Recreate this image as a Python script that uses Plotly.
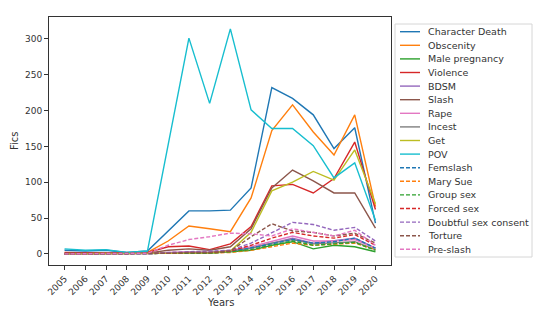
import plotly.graph_objects as go

years = list(range(2005, 2021))
year_labels = [str(y) for y in years]

character_death = [5, 4, 5, 2, 4, 32, 60, 60, 61, 92, 232, 217, 194, 147, 176, 43]
obscenity = [1, 1, 1, 1, 2, 18, 39, 35, 31, 78, 172, 208, 170, 138, 194, 66]
male_pregnancy = [0, 0, 0, 0, 0, 1, 1, 1, 3, 5, 12, 17, 7, 12, 10, 3]
violence = [2, 1, 1, 1, 2, 10, 11, 6, 14, 38, 95, 97, 85, 105, 156, 62]
bdsm = [0, 0, 0, 0, 0, 1, 2, 2, 4, 8, 15, 22, 15, 18, 22, 8]
slash = [1, 1, 1, 1, 1, 5, 7, 5, 10, 35, 92, 117, 102, 85, 85, 36]
rape = [0, 0, 0, 0, 0, 2, 3, 2, 5, 10, 18, 25, 18, 18, 20, 8]
incest = [0, 0, 0, 0, 0, 1, 2, 2, 4, 8, 15, 20, 14, 15, 17, 6]
get_ = [0, 0, 0, 0, 0, 1, 1, 1, 4, 30, 88, 100, 115, 103, 145, 70]
pov = [7, 5, 6, 2, 4, 150, 301, 210, 314, 201, 175, 175, 151, 106, 127, 47]
femslash = [0, 0, 0, 0, 0, 1, 1, 1, 3, 8, 14, 20, 15, 17, 22, 8]
mary_sue = [0, 0, 0, 0, 0, 1, 1, 1, 2, 5, 10, 15, 12, 13, 15, 6]
group_sex = [0, 0, 0, 0, 0, 1, 1, 1, 3, 6, 12, 18, 12, 14, 16, 5]
forced_sex = [0, 0, 0, 0, 0, 1, 2, 2, 4, 12, 22, 30, 25, 22, 27, 12]
doubtful_consent = [0, 0, 0, 0, 0, 2, 3, 3, 5, 15, 30, 44, 41, 33, 37, 18]
torture = [0, 0, 0, 0, 0, 1, 2, 2, 4, 24, 42, 32, 30, 25, 29, 15]
pre_slash = [0, 0, 0, 0, 1, 12, 20, 24, 29, 28, 25, 35, 30, 25, 33, 12]

series_names = ["Character Death", "Obscenity", "Male pregnancy", "Violence", "BDSM",
                "Slash", "Rape", "Incest", "Get", "POV", "Femslash", "Mary Sue",
                "Group sex", "Forced sex", "Doubtful sex consent", "Torture", "Pre-slash"]
series_values = [character_death, obscenity, male_pregnancy, violence, bdsm, slash, rape,
                 incest, get_, pov, femslash, mary_sue, group_sex, forced_sex,
                 doubtful_consent, torture, pre_slash]

tab10 = ["#1f77b4", "#ff7f0e", "#2ca02c", "#d62728", "#9467bd",
         "#8c564b", "#e377c2", "#7f7f7f", "#bcbd22", "#17becf"]

# page body has an 8px margin, so the figure is drawn 8px in from the window edge
OFF = 8
W, H = 549 - OFF, 324 - OFF
L, R, T, B = 49 - OFF, 158, 17 - OFF, 59
pw, ph = W - L - R, H - T - B

def px_x(p):
    return (p - OFF - L) / pw

def px_y(p):
    return (H - B - (p - OFF)) / ph

fig = go.Figure()
shapes = []
annotations = []

legend_top = 31.7
legend_step = 13.6

for i, (name, vals) in enumerate(zip(series_names, series_values)):
    color = tab10[i % 10]
    dash = "solid" if i < 10 else "4px,2px"
    fig.add_trace(go.Scatter(x=years, y=vals, mode="lines", name=name,
                             line=dict(color=color, width=1.4, dash=dash),
                             showlegend=False))
    yy = px_y(legend_top + legend_step * i)
    shapes.append(dict(type="line", xref="paper", yref="paper",
                       x0=px_x(400), x1=px_x(420), y0=yy, y1=yy,
                       line=dict(color=color, width=1.4, dash=dash)))
    annotations.append(dict(x=px_x(426), y=yy, xref="paper", yref="paper",
                            text=name, showarrow=False, xanchor="left", yanchor="middle",
                            font=dict(size=9.5, color="#333333")))

# legend frame
shapes.insert(0, dict(type="rect", xref="paper", yref="paper",
                      x0=px_x(395), x1=px_x(532), y0=px_y(257), y1=px_y(24),
                      line=dict(color="#d6d6d6", width=1), fillcolor="white", layer="below"))

annotations.append(dict(x=px_x(220), y=px_y(302), xref="paper", yref="paper",
                        text="Years", showarrow=False, xanchor="center", yanchor="middle",
                        font=dict(size=10, color="#333333")))
annotations.append(dict(x=px_x(14), y=px_y(141), xref="paper", yref="paper",
                        text="Fics", showarrow=False, xanchor="center", yanchor="middle",
                        textangle=-90, font=dict(size=10, color="#333333")))

fig.update_layout(
    template="none",
    width=W, height=H,
    margin=dict(l=L, r=R, t=T, b=B, autoexpand=False),
    paper_bgcolor="white", plot_bgcolor="white",
    font=dict(family="DejaVu Sans", size=9, color="#333333"),
    shapes=shapes, annotations=annotations,
    showlegend=False,
)
fig.update_xaxes(range=[2004.25, 2020.75], tickvals=years, ticktext=year_labels,
                 tickangle=-45, ticks="outside", ticklen=4, tickcolor="#333333",
                 showline=True, linecolor="#333333", linewidth=1, mirror=True,
                 showgrid=False, zeroline=False, tickfont=dict(size=9), automargin=False)
fig.update_yaxes(range=[-15.5, 330.5], tickvals=[0, 50, 100, 150, 200, 250, 300],
                 ticks="outside", ticklen=4, tickcolor="#333333",
                 showline=True, linecolor="#333333", linewidth=1, mirror=True,
                 showgrid=False, zeroline=False, tickfont=dict(size=9), automargin=False)

fig.write_html("out.html")
